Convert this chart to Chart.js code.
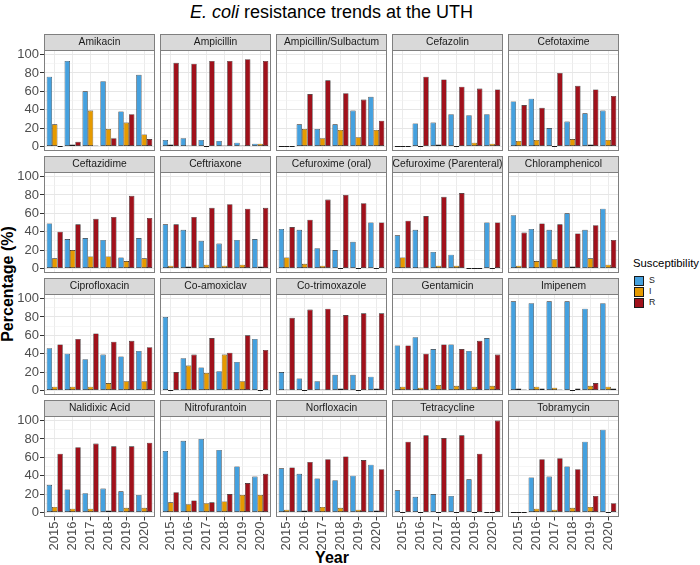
<!DOCTYPE html>
<html>
<head>
<meta charset="utf-8">
<script src="https://cdn.jsdelivr.net/npm/chart.js@4.4.1/dist/chart.umd.min.js"></script>
<style>
html,body{margin:0;padding:0;background:#fff;}
#wrap{position:relative;width:700px;height:565px;overflow:hidden;background:#fff;font-family:"Liberation Sans",Arial,Helvetica,sans-serif;}
#wrap canvas{position:absolute;}
.title{position:absolute;left:44px;width:575px;top:1px;text-align:center;font-size:18px;line-height:22px;color:#000;white-space:nowrap;}
.ytitle{position:absolute;left:7.7px;top:283.5px;transform:translate(-50%,-50%) rotate(-90deg);font-weight:bold;font-size:16px;line-height:18px;white-space:nowrap;color:#000;}
.xtitle{position:absolute;left:332px;top:549px;transform:translateX(-50%);font-weight:bold;font-size:16px;line-height:18px;white-space:nowrap;color:#000;}
.legtitle{position:absolute;left:633px;top:257px;font-size:11.3px;line-height:13px;color:#000;white-space:nowrap;}
.key{position:absolute;left:634px;width:8px;height:8.5px;border:0.6px solid #1a1a1a;}
.klab{position:absolute;left:649px;font-size:8.8px;line-height:9.5px;color:#1a1a1a;}
</style>
</head>
<body>
<div id="wrap">
  <div class="title"><i>E. coli</i> resistance trends at the UTH</div>
  <div class="ytitle">Percentage (%)</div>
  <div class="xtitle">Year</div>
  <div class="legtitle">Susceptibility</div>
  <div id="legend"></div>
</div>
<script>
// ---------------- data ----------------
const drugs = ["Amikacin","Ampicillin","Ampicillin/Sulbactum","Cefazolin","Cefotaxime",
  "Ceftazidime","Ceftriaxone","Cefuroxime (oral)","Cefuroxime (Parenteral)","Chloramphenicol",
  "Ciprofloxacin","Co-amoxiclav","Co-trimoxazole","Gentamicin","Imipenem",
  "Nalidixic Acid","Nitrofurantoin","Norfloxacin","Tetracycline","Tobramycin"];
const years = [2015, 2016, 2017, 2018, 2019, 2020];
const susceptibility = ["S", "I", "R"];
const yTicks = [0, 20, 40, 60, 80, 100];          // labelled y ticks
const yGrid = [0, 10, 20, 30, 40, 50, 60, 70, 80, 90, 100]; // major + minor grid

// percentage Susceptible, one row per drug, one value per year
const sValues = [
  [76,93,60,71,38,78],
  [7,9,7,6,4,3],
  [0,24,19,24,39,54],
  [0,25,26,35,34,35],
  [49,52,20,27,36,39],
  [49,32,33,31,12,33],
  [48,42,30,27,31,32],
  [43,42,22,20,29,50],
  [36,42,18,15,0,50],
  [58,43,42,60,42,65],
  [46,40,34,39,37,43],
  [80,35,25,21,31,56],
  [20,13,10,17,17,15],
  [49,58,45,50,43,57],
  [97,95,97,97,89,95],
  [30,25,21,26,23,19],
  [67,78,80,68,50,39],
  [48,42,37,35,40,52],
  [24,17,20,18,36,0],
  [0,38,39,50,77,90]
];
// percentage Intermediate
const iValues = [
  [24,2,39,19,26,13],
  [2,1,0,1,1,3],
  [0,19,9,18,10,18],
  [0,0,2,0,4,3],
  [6,7,0,8,2,7],
  [11,20,13,13,8,11],
  [3,2,4,3,4,2],
  [12,5,3,0,0,0],
  [12,1,3,3,0,0],
  [3,8,10,2,11,4],
  [4,4,4,8,10,10],
  [0,27,19,39,10,0],
  [1,0,1,2,0,2],
  [4,3,6,5,4,5],
  [2,4,3,0,5,4],
  [6,4,4,2,5,5],
  [11,9,10,12,19,19],
  [3,2,6,5,3,2],
  [0,0,0,0,0,0],
  [0,4,3,5,6,0]
];
// percentage Resistant
const rValues = [
  [0,5,1,9,35,8],
  [91,90,93,93,95,93],
  [0,57,72,58,51,28],
  [0,76,73,65,63,62],
  [45,42,80,66,62,55],
  [40,48,54,56,79,55],
  [48,56,66,70,65,66],
  [45,53,75,80,71,50],
  [52,57,78,82,0,50],
  [39,49,48,38,47,31],
  [50,56,62,53,54,47],
  [20,39,57,41,60,44],
  [79,88,89,82,84,84],
  [49,40,50,45,54,39],
  [1,2,1,2,8,2],
  [64,71,75,72,72,76],
  [22,13,11,20,32,42],
  [49,55,58,61,57,47],
  [77,84,81,84,64,100],
  [0,58,59,47,18,10]
];

// ---------------- style ----------------
const FONT = '"Liberation Sans", Arial, Helvetica, sans-serif';
const COLORS = { S: "#45A1DF", I: "#E69A00", R: "#A0111B" };
const PANEL_W = 111, PANEL_H = 101, STRIP_H = 16;
const COL_X0 = 44, COL_STEP = 116, ROW_Y0 = 34, ROW_STEP = 122;
const BORDER = "#7f7f7f";

Chart.defaults.font.family = FONT;

// legend (HTML)
const legend = document.getElementById("legend");
susceptibility.forEach((s, i) => {
  const k = document.createElement("div");
  k.className = "key";
  k.style.top = (275.7 + 11 * i) + "px";
  k.style.background = COLORS[s];
  legend.appendChild(k);
  const l = document.createElement("div");
  l.className = "klab";
  l.style.top = (275.7 + 11 * i) + "px";
  l.textContent = s;
  legend.appendChild(l);
});

const panelPlugin = {
  id: "panelDeco",
  beforeDraw(chart) {
    const { ctx, chartArea: a } = chart;
    ctx.save();
    ctx.fillStyle = "#ffffff";
    ctx.fillRect(a.left, a.top, a.right - a.left, a.bottom - a.top);
    const top = a.top - STRIP_H;
    ctx.fillStyle = "#d9d9d9";
    ctx.fillRect(a.left, top, a.right - a.left, STRIP_H);
    ctx.strokeStyle = BORDER;
    ctx.lineWidth = 1;
    ctx.strokeRect(a.left + 0.5, top + 0.5, a.right - a.left - 1, STRIP_H);
    ctx.restore();
  },
  afterDraw(chart) {
    const { ctx, chartArea: a } = chart;
    ctx.save();
    ctx.strokeStyle = BORDER;
    ctx.lineWidth = 1;
    ctx.strokeRect(a.left + 0.5, a.top + 0.5, a.right - a.left - 1, a.bottom - a.top - 1);
    ctx.restore();
  }
};

const isMajor = c => c.tick && yTicks.includes(c.tick.value);

const wrap = document.getElementById("wrap");
drugs.forEach((drug, k) => {
  const row = Math.floor(k / 5), col = k % 5;
  const isLeft = col === 0, isBottom = row === 3;
  const L = COL_X0 + COL_STEP * col;
  const stripTop = ROW_Y0 + ROW_STEP * row;
  const yW = isLeft ? 44 : 0;
  const padL = isLeft ? 0 : 1;
  const xH = isBottom ? 38 : 0;
  const cw = yW + padL + PANEL_W + 1;
  const ch = 1 + STRIP_H + PANEL_H + xH + 1;
  const cv = document.createElement("canvas");
  cv.width = cw; cv.height = ch;
  cv.style.width = cw + "px"; cv.style.height = ch + "px";
  cv.style.left = (L - yW - padL) + "px";
  cv.style.top = (stripTop - 1) + "px";
  wrap.appendChild(cv);

  const series = [sValues[k], iValues[k], rValues[k]];
  new Chart(cv, {
    type: "bar",
    data: {
      labels: years,
      datasets: susceptibility.map((s, j) => ({
        label: s,
        data: series[j],
        backgroundColor: COLORS[s],
        borderColor: "#1a1a1a",
        borderWidth: 0.6,
        borderSkipped: false,
        minBarLength: 1,
        categoryPercentage: 0.9,
        barPercentage: 1.0
      }))
    },
    options: {
      responsive: false,
      devicePixelRatio: 1,
      animation: false,
      events: [],
      layout: { padding: { left: padL, right: 1, top: 1, bottom: 1 } },
      plugins: {
        legend: { display: false },
        tooltip: { enabled: false },
        title: {
          display: true, text: drug, fullSize: false, color: "#1a1a1a",
          font: { family: FONT, size: 10.3, weight: "normal", lineHeight: 1.2 },
          padding: { top: 1.82, bottom: 1.82 }
        }
      },
      scales: {
        x: {
          type: "linear", min: 2014.4, max: 2020.6, offset: false,
          border: { display: false },
          grid: { offset: false, color: "#ebebeb", lineWidth: 1, drawTicks: isBottom, tickLength: 3.5, tickColor: "#333333", tickWidth: 1 },
          ticks: {
            display: isBottom, autoSkip: false,
            minRotation: 90, maxRotation: 90, padding: 1, color: "#4d4d4d",
            font: { family: FONT, size: 13 },
            callback: v => String(v)
          },
          afterBuildTicks: s => { s.ticks = years.map(v => ({ value: v })); },
          afterFit: s => { s.height = xH; s.paddingLeft = 0; s.paddingRight = 0; }
        },
        y: {
          type: "linear", min: -5, max: 105,
          border: { display: false },
          grid: {
            color: c => isMajor(c) ? "#e6e6e6" : "#f0f0f0",
            lineWidth: c => isMajor(c) ? 1 : 0.6,
            drawTicks: isLeft, tickLength: 4, tickWidth: 1,
            tickColor: c => isMajor(c) ? "#333333" : "rgba(0,0,0,0)"
          },
          ticks: {
            display: isLeft, autoSkip: false, padding: 1, color: "#4d4d4d",
            font: { family: FONT, size: 13 },
            callback: v => yTicks.includes(v) ? String(v) : ""
          },
          afterBuildTicks: s => { s.ticks = yGrid.map(v => ({ value: v })); },
          afterFit: s => { s.width = yW; s.paddingTop = 0; s.paddingBottom = 0; }
        }
      }
    },
    plugins: [panelPlugin]
  });
});
</script>
</body>
</html>
